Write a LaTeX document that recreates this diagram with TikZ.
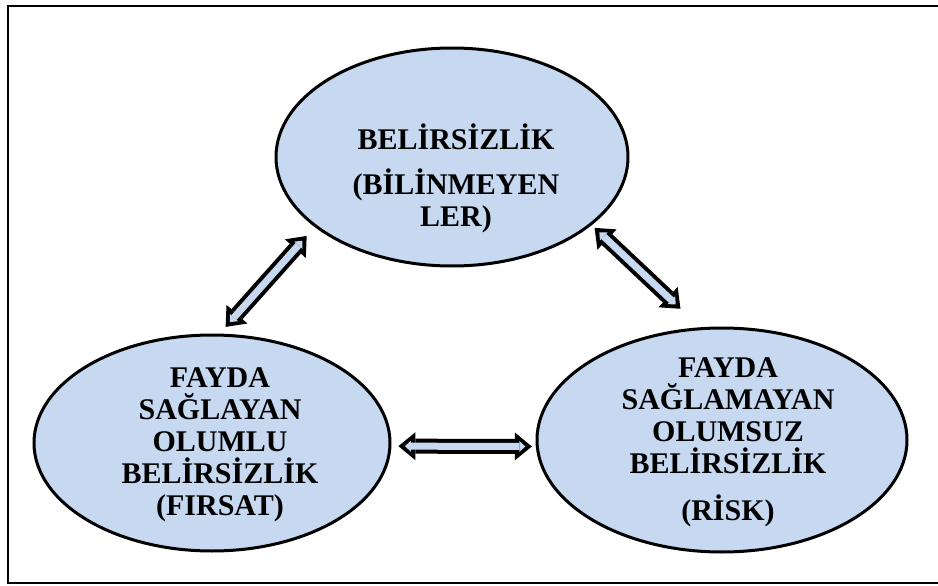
\documentclass[tikz,border=0pt]{standalone}
\usepackage{fontspec}
\setmainfont{Liberation Serif}
\usetikzlibrary{shapes.geometric,arrows.meta}
\definecolor{ovalblue}{RGB}{198,217,240}

\begin{document}
\begin{tikzpicture}[x=1pt, y=-1pt,
        oval/.style={ellipse, draw=black, line width=3pt, fill=ovalblue, inner sep=0pt},
        ovaltext/.style={font=\bfseries\fontsize{30}{32}\selectfont, align=center, inner sep=0pt},
        dblarrow/.style 2 args={draw=black, line width=15pt,
            {Triangle[length=17pt,width=28pt,line width=0pt]}-{Triangle[length=17pt,width=28pt,line width=0pt]},
            shorten <=#1, shorten >=#2,
            postaction={draw=ovalblue, line width=7pt,
                {Triangle[length=6pt,width=11pt,line width=0pt]}-{Triangle[length=6pt,width=11pt,line width=0pt]},
                shorten <=#1+6.5pt, shorten >=#2+6.5pt}}]
    \useasboundingbox (0,0) rectangle (938,586);
    % frame
    \draw[line width=2pt] (8,6) rectangle (941,583);

    % ovals
    \node[oval, minimum width=352pt, minimum height=218pt] (belirsiz) at (452,157) {};
    \node[oval, minimum width=356pt, minimum height=216pt] (firsat) at (212,443) {};
    \node[oval, minimum width=370pt, minimum height=224pt] (risk) at (722,440) {};

    % texts
    \node[ovaltext] (belirsiztext) at ([xshift=4pt,yshift=-21pt]belirsiz)
        {BELİRSİZLİK\\[13pt](BİLİNMEYEN\\LER)};
    \node[ovaltext] (firsattext) at ([xshift=8pt,yshift=-2pt]firsat)
        {FAYDA\\SAĞLAYAN\\OLUMLU\\BELİRSİZLİK\\(FIRSAT)};
    \node[ovaltext] (risktext) at ([xshift=6pt,yshift=-2pt]risk)
        {FAYDA\\SAĞLAMAYAN\\OLUMSUZ\\BELİRSİZLİK\\[15pt](RİSK)};

    % arrows
    \draw[dblarrow={9pt}{12pt}] (firsat.86) -- (belirsiz.207);
    \draw[dblarrow={4pt}{27pt}] (belirsiz.334) -- (risk.101);
    \draw[dblarrow={7pt}{4pt}] (firsat.-1) -- (risk.182);
\end{tikzpicture}
\end{document}
